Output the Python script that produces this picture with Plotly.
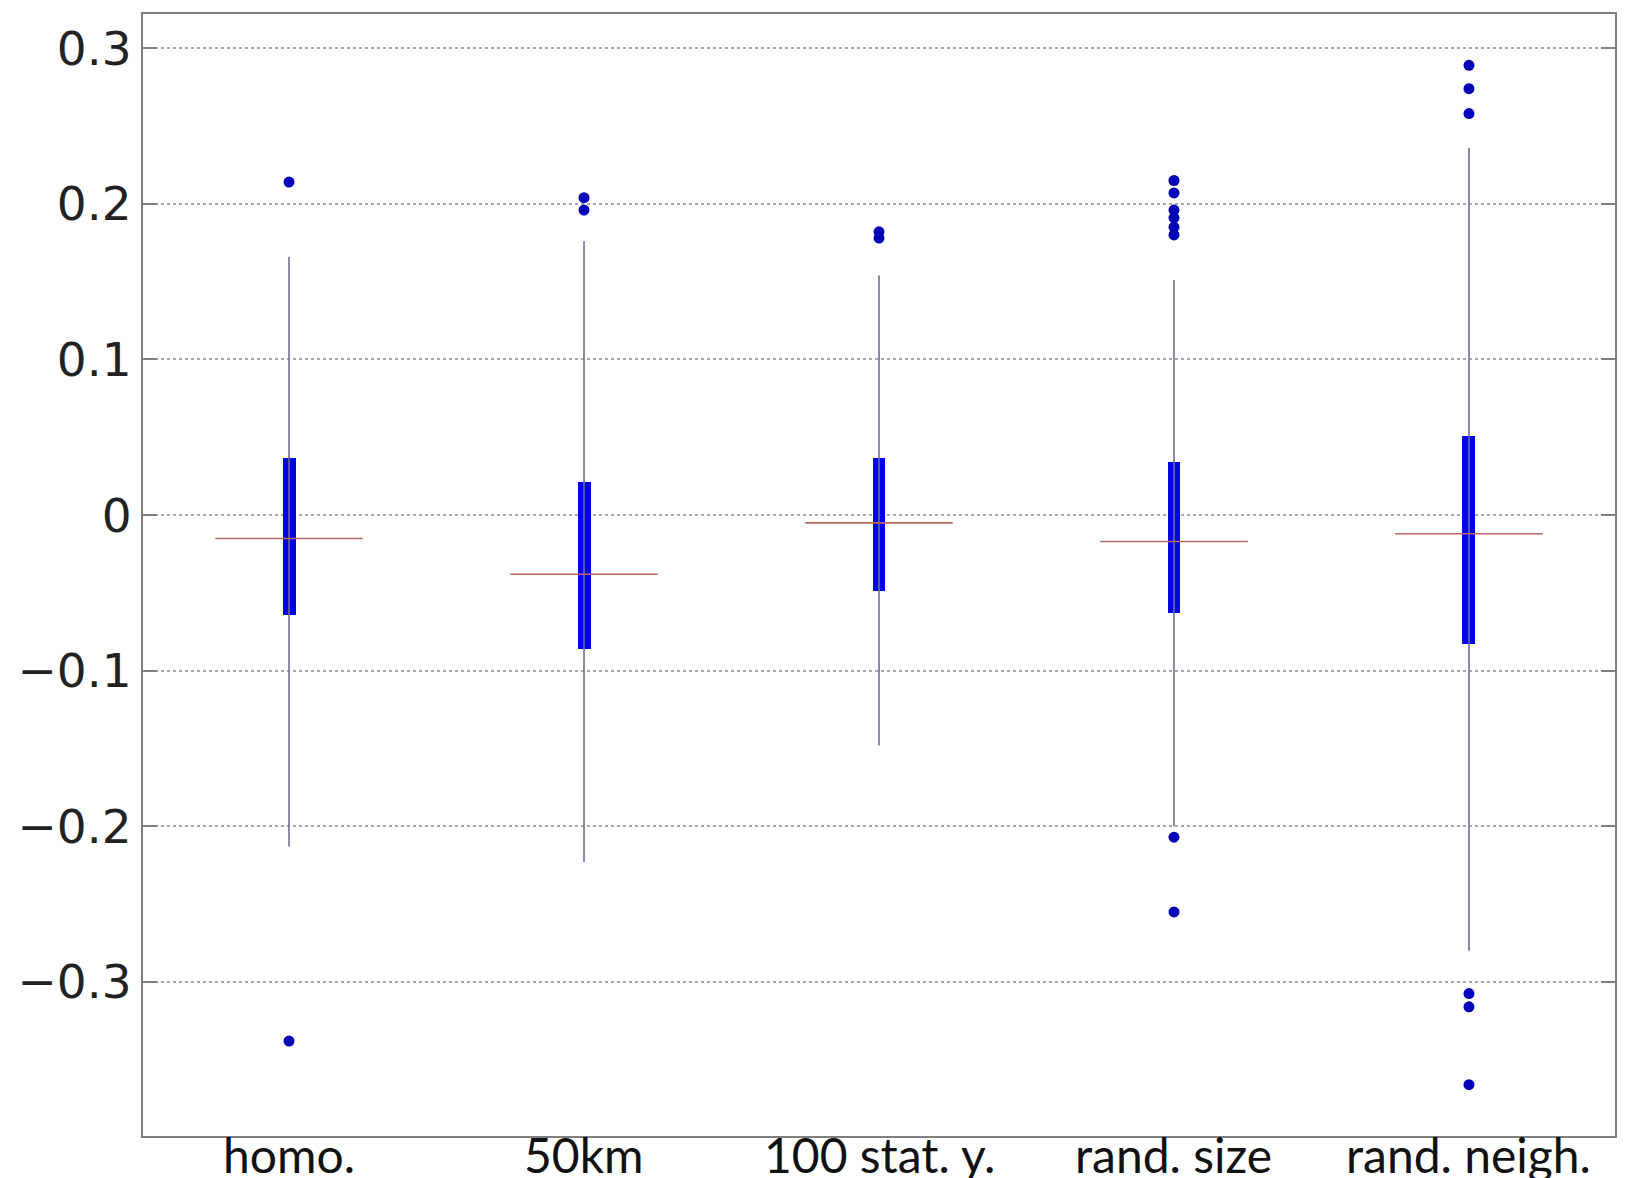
import plotly.graph_objects as go

categories = ["homo.", "50km", "100 stat. y.", "rand. size", "rand. neigh."]
positions = [1, 2, 3, 4, 5]
q1 = [-0.064, -0.086, -0.049, -0.063, -0.083]
median = [-0.015, -0.038, -0.005, -0.017, -0.012]
q3 = [0.037, 0.021, 0.037, 0.034, 0.051]
whisker_low = [-0.213, -0.223, -0.148, -0.200, -0.280]
whisker_high = [0.166, 0.176, 0.154, 0.151, 0.236]
outliers = [
    [0.214, -0.338],
    [0.204, 0.196],
    [0.182, 0.178],
    [0.215, 0.207, 0.196, 0.191, 0.185, 0.180, -0.207, -0.255],
    [0.289, 0.274, 0.258, -0.3075, -0.316, -0.366],
]
ytick_vals = [-0.3, -0.2, -0.1, 0, 0.1, 0.2, 0.3]
ytick_text = ["\u22120.3", "\u22120.2", "\u22120.1", "0", "0.1", "0.2", "0.3"]

box_width = 0.044
median_half = 0.25

fig = go.Figure()

# whiskers
wx, wy = [], []
for p, lo, hi in zip(positions, whisker_low, whisker_high):
    wx += [p, p, None]
    wy += [lo, hi, None]
fig.add_trace(go.Scatter(x=wx, y=wy, mode="lines",
                         line=dict(color="#6c6c94", width=1.6), hoverinfo="skip"))

# boxes
fig.add_trace(go.Bar(x=positions, base=q1, y=[b - a for a, b in zip(q1, q3)],
                     width=box_width, marker=dict(color="#0000ee", line=dict(width=0))))

# medians
mx, my = [], []
for p, m in zip(positions, median):
    mx += [p - median_half, p + median_half, None]
    my += [m, m, None]
fig.add_trace(go.Scatter(x=mx, y=my, mode="lines",
                         line=dict(color="#b86464", width=1.6), hoverinfo="skip"))

# outliers
ox, oy = [], []
for p, vals in zip(positions, outliers):
    for v in vals:
        ox.append(p)
        oy.append(v)
fig.add_trace(go.Scatter(x=ox, y=oy, mode="markers",
                         marker=dict(color="#0000b4", size=11, line=dict(width=0))))

# category labels sitting right under the axis
for p, c in zip(positions, categories):
    fig.add_annotation(x=p, xref="x", y=0, yref="paper", text=c, showarrow=False,
                       xanchor="center", yanchor="top", yshift=12,
                       font=dict(family="Lato", size=48, color="#111111"))

fig.update_layout(
    width=1627, height=1178,
    margin=dict(l=143, r=12, t=14, b=42),
    paper_bgcolor="white", plot_bgcolor="white",
    showlegend=False,
    bargap=0,
)
fig.update_xaxes(
    range=[0.505, 5.495], tickvals=positions, showticklabels=False,
    showgrid=False, zeroline=False, ticks="", automargin=False,
    showline=True, linecolor="#7f7f7f", linewidth=2, mirror=True,
)
fig.update_yaxes(
    range=[-0.399, 0.322], tickvals=ytick_vals, ticktext=ytick_text,
    showgrid=True, gridcolor="#a8a8a8", griddash="dot", gridwidth=1.5,
    zeroline=False, ticks="inside", ticklen=14, tickwidth=2, tickcolor="#7f7f7f",
    showline=True, linecolor="#7f7f7f", linewidth=2, mirror="ticks", automargin=False,
    tickfont=dict(family="DejaVu Sans", size=47, color="#222222"),
)

fig.write_html("out.html")
